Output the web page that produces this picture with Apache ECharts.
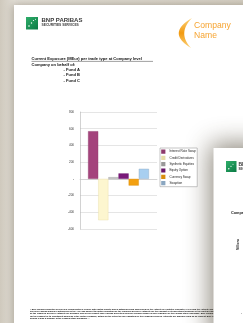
<!DOCTYPE html>
<html>
<head>
<meta charset="utf-8">
<script src="https://cdn.jsdelivr.net/npm/echarts@6/dist/echarts.min.js"></script>
<style>
html,body{margin:0;padding:0;background:#d6d1c6;}
#chart{width:243px;height:323px;}
</style>
</head>
<body>
<div id="chart"></div>
<script>
const categories = ['Company'];
const seriesNames = ['Interest Rate Swap', 'Credit Derivatives', 'Synthetic Equities', 'Equity Option', 'Currency Swap', 'Swaption'];
const seriesValues = [570, -495, 20, 65, -80, 120];
const seriesColors = ['#a4437c', '#fdf6cf', '#c4c4c4', '#7a1a7a', '#f3a010', '#a8cff0'];
const seriesBorders = ['#8e3a6b', '#e6dca6', '#999999', '#6a166a', '#d98e0e', '#8aa6c0'];
const yTicks = { min: -600, max: 800, interval: 200 };
const titleLines = ['Current Exposure (MEur) per trade type at Company level', 'Company on behalf of:'];
const fundLines = ['- Fund A', '- Fund B', '- Fund C'];
const footerLines = [
  '« BNP Paribas Securities Services is incorporated in France with limited liability and is authorised and supervised by the Autorité de Contrôle Prudentiel (ACP) and the Autorité des Marchés Financiers (AMF). BNP Paribas Securities',
  'Services London branch is authorised by the ACP and subject to limited regulation by the Financial Services Authority for the conduct of its investment business in the United Kingdom. Details on the extent of our regulation',
  'by the Financial Services Authority are available from us on request. BNP Paribas Securities Services London branch is also a member of the London Stock Exchange. BNP Paribas Securities Services is authorised and regulated',
  'for the conduct of its investment business in the United Kingdom, details on the extent of our regulation by the Financial Services Authority are available from us on request. BNP Paribas Securities Services London',
  'branch is also a member of the London Stock Exchange. »'
];

const FONT = '"Liberation Sans", Arial, sans-serif';
const chart = echarts.init(document.getElementById('chart'), null, {renderer: 'canvas'});

function quad(p0, p1, p2, n) {
  const pts = [];
  for (let i = 0; i <= n; i++) {
    const t = i / n, u = 1 - t;
    pts.push([u * u * p0[0] + 2 * u * t * p1[0] + t * t * p2[0], u * u * p0[1] + 2 * u * t * p1[1] + t * t * p2[1]]);
  }
  return pts;
}
const crescent = quad([192, 18], [166, 33], [191, 48], 20).concat(quad([191, 48], [177, 33], [192, 18], 20).slice(1));

const greenGrad = function () {
  return new echarts.graphic.LinearGradient(0, 0, 1, 1, [{offset: 0, color: '#2fae6a'}, {offset: 1, color: '#0a7a44'}]);
};

const graphics = [
  {type: 'rect', z: -20, shape: {x: 0, y: 0, width: 243, height: 323},
   style: {fill: new echarts.graphic.LinearGradient(0, 0, 1, 0, [{offset: 0, color: '#cfc9bd'}, {offset: 0.06, color: '#e2ded6'}, {offset: 1, color: '#d6d0c4'}])}},
  {type: 'rect', z: -19, shape: {x: 14, y: 5, width: 260, height: 340},
   style: {fill: '#ffffff', shadowBlur: 8, shadowColor: 'rgba(60,50,30,0.35)', shadowOffsetX: -1, shadowOffsetY: 0}},
  {type: 'rect', z: -15, shape: {x: 26, y: 17, width: 12, height: 12.5}, style: {fill: greenGrad()}},
  {type: 'circle', z: -14, shape: {cx: 29, cy: 26, r: 0.8}, style: {fill: '#ffffff'}},
  {type: 'circle', z: -14, shape: {cx: 31.5, cy: 23, r: 0.7}, style: {fill: '#ffffff'}},
  {type: 'circle', z: -14, shape: {cx: 33.5, cy: 20.5, r: 0.6}, style: {fill: '#ffffff'}},
  {type: 'circle', z: -14, shape: {cx: 35.5, cy: 19.2, r: 0.5}, style: {fill: '#ffffff'}},
  {type: 'text', z: -14, x: 41.5, y: 17.6, style: {text: 'BNP PARIBAS', fontSize: 6, fontWeight: 'bold', fontFamily: FONT, fill: '#3a3a3a'}},
  {type: 'text', z: -14, x: 41.5, y: 24, style: {text: 'SECURITIES SERVICES', fontSize: 3.3, fontWeight: 'bold', fontFamily: FONT, fill: '#3a3a3a'}},
  {type: 'polygon', z: -14, shape: {points: crescent},
   style: {fill: new echarts.graphic.LinearGradient(0, 0, 0, 1, [{offset: 0, color: '#fcd27a'}, {offset: 0.5, color: '#f29a10'}, {offset: 1, color: '#fcd27a'}])}},
  {type: 'text', z: -14, x: 194, y: 21, style: {text: 'Company', fontSize: 8.6, fontFamily: FONT, fill: '#f6a431'}},
  {type: 'text', z: -14, x: 194, y: 31, style: {text: 'Name', fontSize: 8.6, fontFamily: FONT, fill: '#f6a431'}},
  {type: 'text', z: -14, x: 31.5, y: 57.2, style: {text: titleLines[0], fontSize: 4.05, fontWeight: 'bold', fontFamily: FONT, fill: '#111'}},
  {type: 'line', z: -14, shape: {x1: 31.5, y1: 61.4, x2: 153, y2: 61.4}, style: {stroke: '#111', lineWidth: 0.4}},
  {type: 'text', z: -14, x: 31.5, y: 62.4, style: {text: titleLines[1], fontSize: 4.05, fontWeight: 'bold', fontFamily: FONT, fill: '#111'}},
  {type: 'text', z: -14, x: 63.5, y: 67.8, style: {text: fundLines[0], fontSize: 4.05, fontWeight: 'bold', fontFamily: FONT, fill: '#111'}},
  {type: 'text', z: -14, x: 63.5, y: 73.2, style: {text: fundLines[1], fontSize: 4.05, fontWeight: 'bold', fontFamily: FONT, fill: '#111'}},
  {type: 'text', z: -14, x: 63.5, y: 78.6, style: {text: fundLines[2], fontSize: 4.05, fontWeight: 'bold', fontFamily: FONT, fill: '#111'}}
];
footerLines.forEach(function (t, i) {
  graphics.push({type: 'text', z: -14, x: 30, y: 308.2 + i * 2.25, style: {text: t, fontSize: 2.15, fontWeight: 'bold', fontFamily: FONT, fill: '#000'}});
});
graphics.push(
  {type: 'rect', z: -8, shape: {x: 213.5, y: 148, width: 60, height: 200},
   style: {fill: '#ffffff', shadowBlur: 26, shadowColor: 'rgba(60,50,30,0.6)', shadowOffsetX: -3, shadowOffsetY: -4}},
  {type: 'rect', z: -7, shape: {x: 226, y: 161, width: 10.5, height: 11}, style: {fill: greenGrad()}},
  {type: 'circle', z: -6, shape: {cx: 228.8, cy: 168.8, r: 0.7}, style: {fill: '#ffffff'}},
  {type: 'circle', z: -6, shape: {cx: 231, cy: 166.3, r: 0.6}, style: {fill: '#ffffff'}},
  {type: 'circle', z: -6, shape: {cx: 233, cy: 164.2, r: 0.5}, style: {fill: '#ffffff'}},
  {type: 'text', z: -6, x: 238.5, y: 162, style: {text: 'BNP PARIBAS', fontSize: 5, fontWeight: 'bold', fontFamily: FONT, fill: '#3a3a3a'}},
  {type: 'text', z: -6, x: 238.5, y: 167.5, style: {text: 'SECURITIES SERVICES', fontSize: 3, fontWeight: 'bold', fontFamily: FONT, fill: '#3a3a3a'}},
  {type: 'text', z: -6, x: 231, y: 210.5, style: {text: 'Company', fontSize: 3.8, fontWeight: 'bold', fontFamily: FONT, fill: '#111'}},
  {type: 'text', z: -6, x: 237, y: 250, rotation: Math.PI / 2, style: {text: 'Millions', fontSize: 3, fontWeight: 'bold', fontFamily: FONT, fill: '#222'}},
  {type: 'text', z: -6, x: 241, y: 312, style: {text: '-', fontSize: 3, fontFamily: FONT, fill: '#555'}}
);

const series = seriesNames.map(function (name, i) {
  return {
    name: name,
    type: 'bar',
    data: [seriesValues[i]],
    barGap: '0%',
    barCategoryGap: '21%',
    itemStyle: {color: seriesColors[i], borderColor: seriesBorders[i], borderWidth: 0.4},
    emphasis: {disabled: true},
    animation: false
  };
});

chart.setOption({
  animation: false,
  backgroundColor: 'transparent',
  graphic: graphics,
  grid: {left: 80, right: 86, top: 112, bottom: 94, containLabel: false},
  legend: {
    orient: 'vertical',
    left: 160, top: 148,
    data: seriesNames,
    itemWidth: 2.2, itemHeight: 2.2, itemGap: 2.1,
    icon: 'rect',
    padding: [1.5, 1.5, 1.5, 1.2],
    borderColor: '#8a8a8a', borderWidth: 0.5,
    backgroundColor: '#ffffff',
    textStyle: {fontSize: 3.1, lineHeight: 3.9, color: '#222', fontFamily: FONT}
  },
  xAxis: {
    type: 'category',
    data: categories,
    axisLine: {show: true, lineStyle: {color: '#c8c8c8', width: 0.6}},
    axisTick: {show: false},
    axisLabel: {show: false}
  },
  yAxis: {
    type: 'value',
    min: yTicks.min, max: yTicks.max, interval: yTicks.interval,
    axisLine: {show: true, lineStyle: {color: '#b4b4b4', width: 0.6}},
    axisTick: {show: false},
    splitLine: {lineStyle: {color: '#d4d4d4', width: 0.6}},
    axisLabel: {fontSize: 3, color: '#333', fontFamily: FONT, margin: 6,
      formatter: function (v) { return v === 0 ? '-' : String(v); }}
  },
  series: series
});
</script>
</body>
</html>
